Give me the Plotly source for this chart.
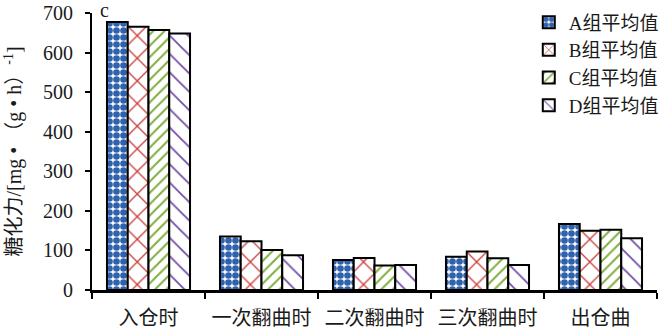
import plotly.graph_objects as go

categories = ["入仓时", "一次翻曲时", "二次翻曲时", "三次翻曲时", "出仓曲"]
series_names = ["A组平均值", "B组平均值", "C组平均值", "D组平均值"]
group_a = [677, 135, 76, 84, 167]
group_b = [665, 123, 81, 97, 150]
group_c = [657, 101, 62, 80, 152]
group_d = [648, 88, 63, 63, 131]
y_ticks = [0, 100, 200, 300, 400, 500, 600, 700]

values = [group_a, group_b, group_c, group_d]
colors = ["#2f62ad", "#c8403e", "#7fae3f", "#7652a8"]
shapes = [".", "x", "/", "\\"]
sizes = [7, 16, 8, 13]
solid = [0.7, 0.16, 0.25, 0.14]

FONT = "Liberation Serif, Times New Roman, Noto Sans CJK SC, serif"
TXT = "#1a1a1a"

fig = go.Figure()
for name, vals, c, s, sz, so in zip(series_names, values, colors, shapes, sizes, solid):
    fig.add_trace(go.Bar(
        x=categories, y=vals, name=name,
        marker=dict(color="white", line=dict(color="black", width=2),
                    pattern=dict(shape=s, fgcolor=c, bgcolor="white", size=sz, solidity=so,
                                 fgopacity=1, fillmode="overlay")),
    ))

fig.add_annotation(x=0, y=700, xref="x", yref="y", text="c", showarrow=False,
                   xshift=-44, yshift=3, font=dict(family=FONT, size=20, color=TXT))

fig.update_layout(
    width=667, height=332,
    margin=dict(l=92, r=3, t=13, b=42),
    paper_bgcolor="white", plot_bgcolor="white",
    barmode="group", bargap=0.265, bargroupgap=0,
    font=dict(family=FONT, size=20, color=TXT),
    showlegend=True,
    legend=dict(x=1.012, xanchor="right", y=1.035, yanchor="top", bgcolor="rgba(0,0,0,0)",
                font=dict(family=FONT, size=19, color=TXT),
                itemwidth=30, tracegroupgap=0, traceorder="normal"),
    xaxis=dict(type="category", range=[-0.5, 4.5], showline=True, linecolor="black", linewidth=3,
               ticks="outside", tickson="boundaries", ticklen=6, tickcolor="black", tickwidth=1.5,
               ticklabelstandoff=8, tickangle=0, automargin=False,
               showgrid=False, tickfont=dict(family=FONT, size=20, color=TXT)),
    yaxis=dict(range=[0, 700], tickvals=y_ticks, showline=True, linecolor="black", linewidth=2,
               ticks="outside", ticklen=5, tickcolor="black", tickwidth=1.5, showgrid=False, zeroline=False,
               ticklabelstandoff=8, automargin=False,
               tickfont=dict(family=FONT, size=20, color=TXT),
               title=dict(text="糖化力/[mg • （g • h）<sup>-1</sup>]", standoff=16,
                          font=dict(family=FONT, size=20, color=TXT))),
)

fig.write_html("out.html")
